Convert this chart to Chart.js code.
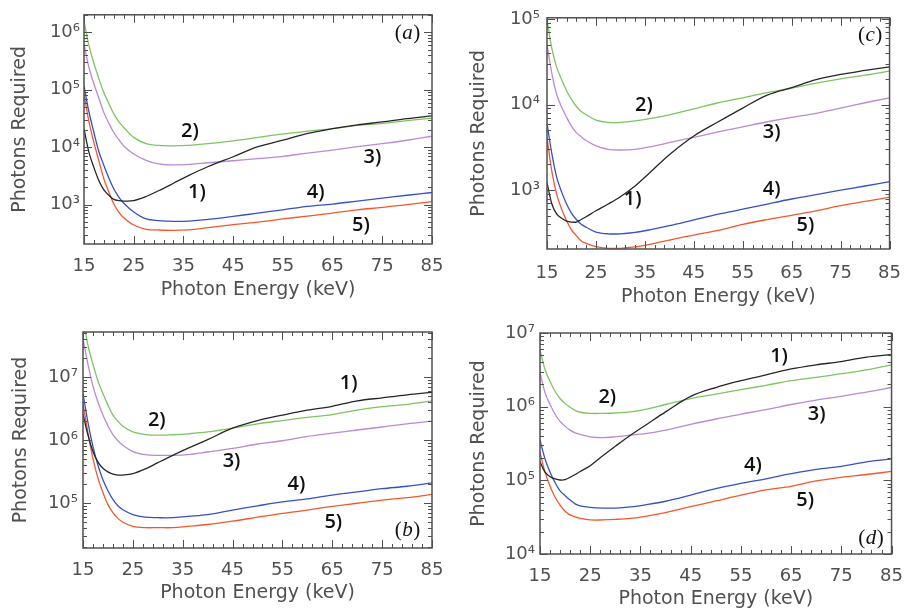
<!DOCTYPE html>
<html>
<head>
<meta charset="utf-8">
<script src="https://cdn.jsdelivr.net/npm/chart.js@4.4.1/dist/chart.umd.min.js"></script>
<style>
  body { margin: 0; background: #fff; }
  #wrap { position: relative; width: 915px; height: 610px; overflow: hidden; }
  canvas { position: absolute; }
</style>
</head>
<body>
<div id="wrap">
  <canvas id="panelA" width="457" height="315" style="left:0px;top:0px"></canvas>
  <canvas id="panelC" width="458" height="315" style="left:457px;top:0px"></canvas>
  <canvas id="panelB" width="457" height="305" style="left:0px;top:305px"></canvas>
  <canvas id="panelD" width="458" height="305" style="left:457px;top:305px"></canvas>
</div>
<script>
// photon energy (keV) the curves were read at
const energy = [15, 16, 17, 18, 19, 20, 21, 22, 23, 25, 27.5, 30, 33, 36, 40, 45, 50, 55, 60, 65, 70, 75, 80, 85];
const xTicks = [15, 25, 35, 45, 55, 65, 75, 85];
const seriesNames = ['1)', '2)', '3)', '4)', '5)'];

// panel (a)
const a1 = [2.1e4, 8.1e3, 4.4e3, 2.6e3, 1.8e3, 1.45e3, 1.23e3, 1.17e3, 1.15e3, 1.17e3, 1.38e3, 1.74e3, 2.35e3, 3.2e3, 4.6e3, 6.8e3, 1.02e4, 1.32e4, 1.74e4, 2.1e4, 2.45e4, 2.75e4, 3.15e4, 3.5e4];
const a2 = [1.58e6, 5.9e5, 2.9e5, 1.55e5, 8.9e4, 5.75e4, 3.8e4, 2.8e4, 2.2e4, 1.48e4, 1.15e4, 1.07e4, 1.05e4, 1.07e4, 1.15e4, 1.29e4, 1.48e4, 1.7e4, 1.9e4, 2.1e4, 2.4e4, 2.6e4, 2.9e4, 3.2e4];
const a3 = [6.3e5, 2.45e5, 1.26e5, 7.1e4, 4.0e4, 2.6e4, 1.8e4, 1.35e4, 1.05e4, 7.6e3, 5.9e3, 5.1e3, 4.9e3, 5.0e3, 5.35e3, 5.8e3, 6.3e3, 6.9e3, 7.9e3, 8.9e3, 1.02e4, 1.15e4, 1.32e4, 1.55e4];
const a4 = [1.17e5, 4.1e4, 1.8e4, 8.3e3, 4.8e3, 2.9e3, 1.86e3, 1.35e3, 1.05e3, 740, 560, 525, 510, 515, 550, 620, 710, 810, 930, 1.02e3, 1.15e3, 1.29e3, 1.45e3, 1.62e3];
const a5 = [8.5e4, 2.75e4, 1.2e4, 5.75e3, 2.8e3, 1.65e3, 1.02e3, 740, 590, 440, 370, 360, 355, 362, 395, 445, 495, 560, 630, 710, 810, 890, 1.0e3, 1.12e3];
const aTicks = [1e3, 1e4, 1e5, 1e6];

// panel (b)
const b1 = [2.6e6, 1.2e6, 6.6e5, 4.5e5, 3.6e5, 3.15e5, 2.9e5, 2.8e5, 2.8e5, 2.95e5, 3.5e5, 4.4e5, 5.75e5, 7.4e5, 1.02e6, 1.55e6, 2.05e6, 2.5e6, 3.0e6, 3.45e6, 4.2e6, 4.7e6, 5.25e6, 5.75e6];
const b2 = [8.9e7, 3.2e7, 1.6e7, 8.7e6, 5.5e6, 3.6e6, 2.5e6, 2.0e6, 1.66e6, 1.35e6, 1.23e6, 1.2e6, 1.22e6, 1.26e6, 1.35e6, 1.55e6, 1.82e6, 2.05e6, 2.3e6, 2.55e6, 3.0e6, 3.4e6, 3.7e6, 4.2e6];
const b3 = [4.1e7, 1.6e7, 7.2e6, 4.0e6, 2.5e6, 1.7e6, 1.23e6, 9.8e5, 8.3e5, 6.6e5, 5.9e5, 5.75e5, 5.75e5, 5.9e5, 6.5e5, 7.4e5, 8.7e5, 9.8e5, 1.15e6, 1.29e6, 1.45e6, 1.62e6, 1.82e6, 2.0e6];
const b4 = [5.5e6, 1.9e6, 7.9e5, 4.0e5, 2.35e5, 1.58e5, 1.15e5, 9.1e4, 7.9e4, 6.6e4, 6.0e4, 5.9e4, 5.9e4, 6.2e4, 6.6e4, 7.8e4, 9.1e4, 1.05e5, 1.17e5, 1.35e5, 1.51e5, 1.7e5, 1.86e5, 2.1e5];
const b5 = [3.8e6, 1.3e6, 5.1e5, 2.5e5, 1.48e5, 9.5e4, 7.1e4, 5.75e4, 5.0e4, 4.3e4, 4.1e4, 4.1e4, 4.1e4, 4.3e4, 4.6e4, 5.2e4, 6.0e4, 6.9e4, 7.8e4, 8.9e4, 1.0e5, 1.12e5, 1.23e5, 1.38e5];
const bTicks = [1e5, 1e6, 1e7];

// panel (c)
const c1 = [1.23e3, 690, 525, 470, 435, 425, 425, 455, 490, 575, 690, 840, 1.12e3, 1.6e3, 2.6e3, 4.3e3, 6.3e3, 9.1e3, 1.29e4, 1.58e4, 1.95e4, 2.25e4, 2.5e4, 2.75e4];
const c2 = [9.8e4, 4.5e4, 2.7e4, 1.95e4, 1.45e4, 1.15e4, 9.5e3, 8.3e3, 7.6e3, 6.6e3, 6.2e3, 6.2e3, 6.45e3, 6.85e3, 7.6e3, 8.9e3, 1.05e4, 1.2e4, 1.38e4, 1.55e4, 1.78e4, 2.0e4, 2.2e4, 2.45e4];
const c3 = [5.0e4, 2.3e4, 1.3e4, 9.3e3, 7.1e3, 5.6e3, 4.7e3, 4.2e3, 3.8e3, 3.3e3, 3.0e3, 2.95e3, 3.0e3, 3.2e3, 3.6e3, 4.15e3, 4.8e3, 5.5e3, 6.3e3, 7.1e3, 7.9e3, 9.1e3, 1.05e4, 1.2e4];
const c4 = [6.0e3, 2.65e3, 1.4e3, 950, 690, 540, 455, 400, 370, 325, 310, 310, 322, 345, 385, 450, 525, 600, 690, 790, 890, 1.0e3, 1.12e3, 1.26e3];
const c5 = [4.1e3, 1.65e3, 890, 600, 440, 345, 295, 255, 240, 220, 210, 210, 218, 233, 262, 300, 340, 400, 455, 510, 575, 660, 740, 830];
const cTicks = [1e3, 1e4, 1e5];

// panel (d)
const d1 = [1.78e5, 1.29e5, 1.12e5, 1.05e5, 1.01e5, 1.02e5, 1.1e5, 1.2e5, 1.32e5, 1.58e5, 2.15e5, 2.9e5, 4.1e5, 5.6e5, 8.5e5, 1.38e6, 1.82e6, 2.25e6, 2.7e6, 3.25e6, 3.7e6, 4.1e6, 4.7e6, 5.1e6];
const d2 = [5.9e6, 3.2e6, 2.2e6, 1.62e6, 1.29e6, 1.1e6, 9.8e5, 8.9e5, 8.4e5, 8.1e5, 8.1e5, 8.2e5, 8.5e5, 9.2e5, 1.07e6, 1.29e6, 1.48e6, 1.7e6, 1.95e6, 2.25e6, 2.5e6, 2.8e6, 3.15e6, 3.7e6];
const d3 = [2.9e6, 1.55e6, 1.07e6, 7.9e5, 6.3e5, 5.4e5, 4.8e5, 4.4e5, 4.2e5, 3.9e5, 3.8e5, 3.9e5, 4.1e5, 4.3e5, 4.8e5, 5.75e5, 6.8e5, 7.9e5, 9.1e5, 1.07e6, 1.23e6, 1.38e6, 1.58e6, 1.82e6];
const d4 = [3.5e5, 1.95e5, 1.29e5, 9.3e4, 7.2e4, 6.2e4, 5.4e4, 4.8e4, 4.5e4, 4.3e4, 4.2e4, 4.2e4, 4.35e4, 4.65e4, 5.2e4, 6.3e4, 7.7e4, 9.1e4, 1.05e5, 1.23e5, 1.41e5, 1.55e5, 1.78e5, 1.95e5];
const d5 = [2.4e5, 1.29e5, 8.3e4, 5.9e4, 4.6e4, 3.8e4, 3.4e4, 3.2e4, 3.05e4, 2.9e4, 2.9e4, 2.95e4, 3.05e4, 3.25e4, 3.65e4, 4.4e4, 5.25e4, 6.3e4, 7.4e4, 8.3e4, 9.8e4, 1.1e5, 1.2e5, 1.32e5];
const dTicks = [1e4, 1e5, 1e6, 1e7];

const lineColors = ['#262626', '#7cc561', '#b98ad6', '#3550c8', '#f2582e'];
const axisColor = '#505050';
const supDigits = ['\u2070', '\u00b9', '\u00b2', '\u00b3', '\u2074', '\u2075', '\u2076', '\u2077', '\u2078', '\u2079'];

Chart.defaults.font.family = '"DejaVu Sans", sans-serif';

// box, inward ticks, curve numbers and the panel letter
const boxPlugin = {
  id: 'panelBox',
  afterDatasetsDraw(chart, args, opts) {
    const ctx = chart.ctx;
    const ca = chart.chartArea;
    const x = chart.scales.x, y = chart.scales.y;
    ctx.save();
    ctx.strokeStyle = axisColor;
    ctx.lineWidth = 1.5;
    ctx.strokeRect(ca.left, ca.top, ca.right - ca.left, ca.bottom - ca.top);

    ctx.lineWidth = 1;
    ctx.beginPath();
    for (let v = x.min; v <= x.max; v += 2) {
      const px = Math.round(x.getPixelForValue(v)) + 0.5;
      const len = (v - xTicks[0]) % 10 === 0 ? 8 : 4;
      ctx.moveTo(px, ca.bottom); ctx.lineTo(px, ca.bottom - len);
      ctx.moveTo(px, ca.top); ctx.lineTo(px, ca.top + len);
    }
    const lo = Math.floor(Math.log10(y.min)), hi = Math.ceil(Math.log10(y.max));
    for (let e = lo; e <= hi; e++) {
      for (let m = 1; m <= 9; m++) {
        const v = m * Math.pow(10, e);
        if (v < y.min || v > y.max) continue;
        const py = Math.round(y.getPixelForValue(v)) + 0.5;
        const len = m === 1 ? 8 : 4;
        ctx.moveTo(ca.left, py); ctx.lineTo(ca.left + len, py);
        ctx.moveTo(ca.right, py); ctx.lineTo(ca.right - len, py);
      }
    }
    ctx.stroke();

    ctx.fillStyle = '#111';
    ctx.font = '600 20px "Open Sans", sans-serif';
    ctx.textAlign = 'center';
    ctx.textBaseline = 'middle';
    opts.notes.forEach(n => {
      ctx.fillText(n.text, x.getPixelForValue(n.x), y.getPixelForValue(n.y));
    });

    // panel letter like "(a)"
    const lx = ca.right - opts.letterDx;
    const ly = opts.letterAtTop ? ca.top + opts.letterDy : ca.bottom - opts.letterDy;
    ctx.font = '21px "Liberation Serif", serif';
    const pw = ctx.measureText('(').width;
    ctx.font = 'italic 21px "Liberation Serif", serif';
    const lw = ctx.measureText(opts.letter).width;
    const start = lx - (2 * pw + lw) / 2;
    ctx.textAlign = 'left';
    ctx.font = '21px "Liberation Serif", serif';
    ctx.fillText('(', start, ly);
    ctx.fillText(')', start + pw + lw + 1, ly);
    ctx.font = 'italic 21px "Liberation Serif", serif';
    ctx.fillText(opts.letter, start + pw + 0.5, ly);
    ctx.restore();
  }
};

function makePanel(id, series, yMin, yMax, yTicks, lay, notes, letter) {
  new Chart(document.getElementById(id), {
    type: 'line',
    data: {
      datasets: series.map((vals, i) => ({
        label: seriesNames[i],
        data: energy.map((e, k) => ({ x: e, y: vals[k] })),
        borderColor: lineColors[i],
        borderWidth: 1.3,
        pointRadius: 0,
        tension: 0.35,
        fill: false
      }))
    },
    options: {
      responsive: false,
      animation: false,
      events: [],
      layout: { padding: { top: lay.top, right: lay.right, left: 0, bottom: 0 }, autoPadding: false },
      plugins: {
        legend: { display: false },
        tooltip: { enabled: false },
        panelBox: { notes: notes, letter: letter, letterDx: lay.letterDx, letterDy: lay.letterDy, letterAtTop: lay.letterAtTop }
      },
      scales: {
        x: {
          type: 'linear', min: 15, max: 85,
          grid: { display: false, drawTicks: false },
          border: { display: false },
          afterBuildTicks: s => { s.ticks = xTicks.map(v => ({ value: v })); },
          afterFit: s => { s.height = lay.xh; },
          ticks: { font: { size: 18 }, color: axisColor, padding: lay.xPad, maxRotation: 0, autoSkip: false },
          title: { display: true, text: 'Photon Energy (keV)', color: axisColor,
                   font: { size: 19, lineHeight: 1 }, padding: { top: 0, bottom: lay.xTitlePad } }
        },
        y: {
          type: 'logarithmic', min: yMin, max: yMax,
          grid: { display: false, drawTicks: false },
          border: { display: false },
          afterBuildTicks: s => { s.ticks = yTicks.map(v => ({ value: v })); },
          afterFit: s => { s.width = lay.yw; },
          ticks: {
            font: { size: 18 }, color: axisColor, padding: lay.yPad, autoSkip: false,
            callback: v => '10' + supDigits[Math.round(Math.log10(v))]
          },
          title: { display: true, text: 'Photons Required', color: axisColor,
                   font: { size: 19, lineHeight: 1 }, padding: { top: lay.yTitlePad, bottom: 0 } }
        }
      }
    },
    plugins: [boxPlugin]
  });
}

makePanel('panelA', [a1, a2, a3, a4, a5], 205, 2.03e6, aTicks,
  { top: 14, right: 25, yw: 84, xh: 71, xPad: 12, yPad: 4, xTitlePad: 15, yTitlePad: 11, letterDx: 25, letterDy: 19, letterAtTop: true },
  [{ text: '1)', x: 37.7, y: 1.62e3 }, { text: '2)', x: 36.3, y: 1.86e4 }, { text: '3)', x: 73.0, y: 6.6e3 },
   { text: '4)', x: 61.6, y: 1.62e3 }, { text: '5)', x: 70.7, y: 437 }], 'a');

makePanel('panelC', [c1, c2, c3, c4, c5], 206, 1.03e5, cTicks,
  { top: 15, right: 15, yw: 90, xh: 66, xPad: 14, yPad: 7, xTitlePad: 8, yTitlePad: 13, letterDx: 20, letterDy: 18, letterAtTop: true },
  [{ text: '1)', x: 32.5, y: 794 }, { text: '2)', x: 34.8, y: 9.8e3 }, { text: '3)', x: 60.9, y: 4.7e3 },
   { text: '4)', x: 60.9, y: 1.02e3 }, { text: '5)', x: 67.8, y: 389 }], 'c');

makePanel('panelB', [b1, b2, b3, b4, b5], 1.95e4, 5.2e7, bTicks,
  { top: 27, right: 25, yw: 83, xh: 62, xPad: 12, yPad: 5, xTitlePad: 7, yTitlePad: 12, letterDx: 25, letterDy: 18, letterAtTop: false },
  [{ text: '1)', x: 68.3, y: 7.9e6 }, { text: '2)', x: 29.8, y: 2.1e6 }, { text: '3)', x: 44.8, y: 4.6e5 },
   { text: '4)', x: 57.8, y: 2.0e5 }, { text: '5)', x: 65.2, y: 5.0e4 }], 'b');

makePanel('panelD', [d1, d2, d3, d4, d5], 1e4, 1e7, dTicks,
  { top: 28, right: 17, yw: 83, xh: 56, xPad: 12, yPad: 5, xTitlePad: 1, yTitlePad: 13, letterDx: 21, letterDy: 16, letterAtTop: false },
  [{ text: '1)', x: 62.6, y: 4.8e6 }, { text: '2)', x: 28.4, y: 1.32e6 }, { text: '3)', x: 70.1, y: 7.8e5 },
   { text: '4)', x: 57.4, y: 1.58e5 }, { text: '5)', x: 67.8, y: 5.4e4 }], 'd');
</script>
</body>
</html>
